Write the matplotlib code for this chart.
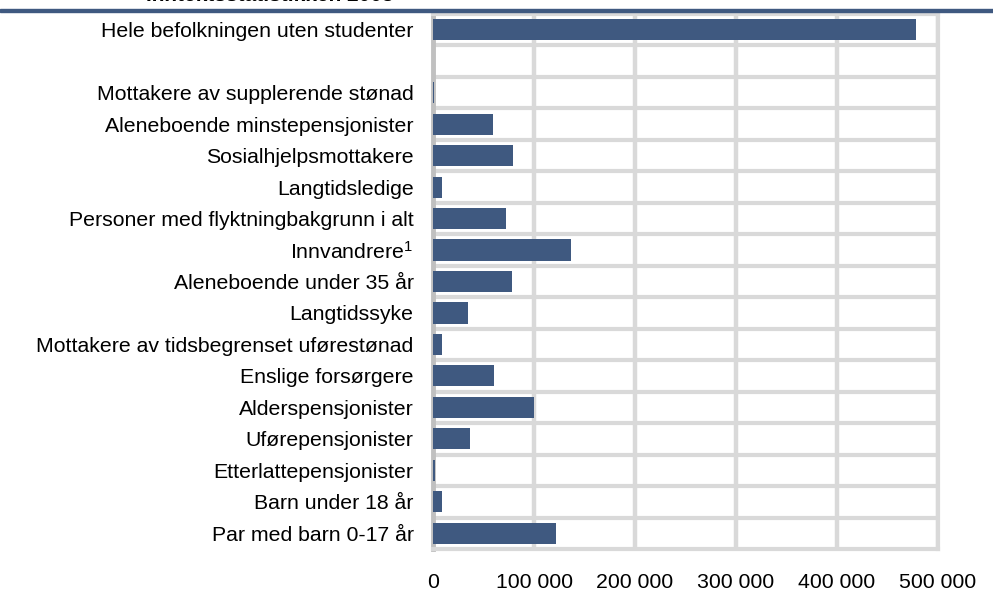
import matplotlib
matplotlib.use("Agg")
import matplotlib.pyplot as plt
import numpy as np
from matplotlib.patches import Rectangle
from matplotlib.ticker import FuncFormatter

# data
categories = [
    "Hele befolkningen uten studenter",
    "",
    "Mottakere av supplerende stønad",
    "Aleneboende minstepensjonister",
    "Sosialhjelpsmottakere",
    "Langtidsledige",
    "Personer med flyktningbakgrunn i alt",
    "Innvandrere$^{1}$",
    "Aleneboende under 35 år",
    "Langtidssyke",
    "Mottakere av tidsbegrenset uførestønad",
    "Enslige forsørgere",
    "Alderspensjonister",
    "Uførepensjonister",
    "Etterlattepensjonister",
    "Barn under 18 år",
    "Par med barn 0-17 år",
]
values = [478000, 0, 1000, 59000, 79000, 8500, 72000, 137000, 78000,
          35000, 8500, 60000, 100000, 37000, 1700, 9000, 122000]
xticks = [0, 100000, 200000, 300000, 400000, 500000]
title = "Inntektsstatistikken 2008"

bar_color = "#3f5980"
grid_color = "#d9d9d9"

plt.rcParams["font.family"] = ["Liberation Sans", "DejaVu Sans"]
plt.rcParams["mathtext.fontset"] = "custom"
plt.rcParams["mathtext.rm"] = "Liberation Sans"
plt.rcParams["mathtext.default"] = "regular"

fig = plt.figure(figsize=(9.93, 5.90), dpi=100)
ax = fig.add_axes([433 / 993, 1 - 549 / 590, (938 - 433) / 993, (549 - 14) / 590])

y = np.arange(len(categories))
ax.barh(y, values, height=0.67, color=bar_color, zorder=3)

ax.set_xlim(0, 500000)
ax.set_ylim(len(categories) - 0.5, -0.5)

ax.set_yticks(y)
ax.set_yticklabels(categories, fontsize=15.3)
ax.set_xticks(xticks)
ax.xaxis.set_major_formatter(FuncFormatter(lambda v, p: f"{int(v):,}".replace(",", " ")))
ax.tick_params(axis="x", labelsize=15.3, length=0, pad=17)
ax.tick_params(axis="y", length=0, pad=14)

# horizontal grid between rows, vertical grid at major ticks
ax.set_yticks(np.arange(len(categories) - 1) + 0.5, minor=True)
ax.tick_params(axis="y", which="minor", length=0)
ax.grid(axis="y", which="minor", color=grid_color, linewidth=3, zorder=1)
ax.grid(axis="x", which="major", color=grid_color, linewidth=3.2, zorder=1)

for side in ["top", "right", "bottom"]:
    ax.spines[side].set_color(grid_color)
    ax.spines[side].set_linewidth(3)
ax.spines["left"].set_color("#c0c0c0")
ax.spines["left"].set_linewidth(3.5)

# blue rule and clipped heading at the very top
fig.patches.append(Rectangle((0, 1 - 12 / 590), 1, 3 / 590, transform=fig.transFigure,
                             color=bar_color, zorder=5))
fig.text(146 / 993, 1 - 0.8 / 590, title, fontsize=15, fontweight="bold",
         va="baseline", ha="left")

fig.savefig("out.png", dpi=100)
